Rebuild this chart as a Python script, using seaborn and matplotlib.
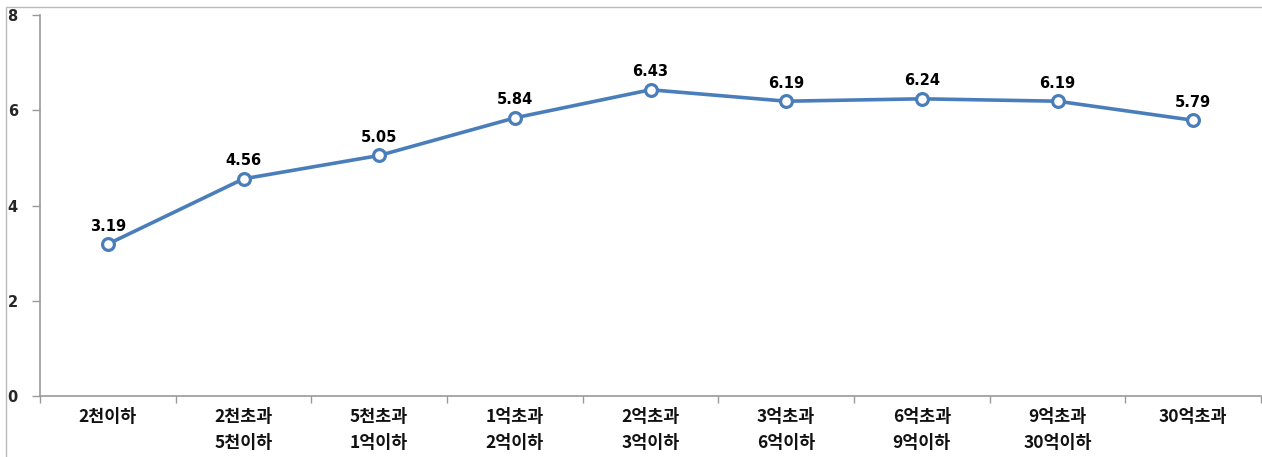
import matplotlib
matplotlib.use("Agg")
import matplotlib.pyplot as plt
import seaborn as sns
import pandas as pd
from matplotlib.patches import Rectangle

categories = ["2천이하", "2천초과\n5천이하", "5천초과\n1억이하", "1억초과\n2억이하",
              "2억초과\n3억이하", "3억초과\n6억이하", "6억초과\n9억이하",
              "9억초과\n30억이하", "30억초과"]
values = [3.19, 4.56, 5.05, 5.84, 6.43, 6.19, 6.24, 6.19, 5.79]
yticks = [0, 2, 4, 6, 8]

sns.set_theme(style="white")
plt.rcParams['font.family'] = ['Noto Sans CJK KR', 'DejaVu Sans']

df = pd.DataFrame({"pos": list(range(len(categories))), "value": values})

fig = plt.figure(figsize=(12.62, 4.57), dpi=100)
ax = fig.add_axes([40 / 1262, 61 / 457, 1221 / 1262, 381 / 457])

color = "#4A7EBB"
sns.lineplot(data=df, x="pos", y="value", ax=ax, color=color, linewidth=2.6,
             marker="o", markersize=8.5, markerfacecolor="white",
             markeredgecolor=color, markeredgewidth=2.3, sort=False)

for x, v in zip(df["pos"], df["value"]):
    ax.annotate(f"{v:.2f}", (x, v), xytext=(0, 13), textcoords="offset points",
                ha="center", va="center", fontsize=10.5, fontweight="bold",
                color="black", family=["DejaVu Sans"])

ax.set_xlim(-0.5, len(categories) - 0.5)
ax.set_ylim(0, 8)
ax.set_yticks(yticks)
ax.set_xticks(range(len(categories)))
ax.set_xticklabels(categories, fontsize=12.5, fontweight="bold", linespacing=1.55,
                   va="top", color="#111111")
ax.set_xticks([i - 0.5 for i in range(len(categories) + 1)], minor=True)
ax.tick_params(axis="x", which="major", length=0, pad=9)
ax.tick_params(axis="x", which="minor", length=5, color="#999999", width=1,
               direction="out", bottom=True)
ax.tick_params(axis="y", which="major", length=6, color="#999999", width=1,
               direction="out", left=True, pad=10, labelsize=10.5,
               labelfontfamily="DejaVu Sans")
ax.set_yticklabels([str(t) for t in yticks])
for lbl in ax.get_yticklabels():
    lbl.set_fontweight("bold")
    lbl.set_fontfamily(["DejaVu Sans"])

ax.set_xlabel("")
ax.set_ylabel("")
for s in ["top", "right"]:
    ax.spines[s].set_visible(False)
for s in ["left", "bottom"]:
    ax.spines[s].set_color("#999999")
    ax.spines[s].set_linewidth(1.2)
ax.grid(False)

# outer frame of the original chart box
fig.patches.append(Rectangle((6 / 1262, -0.1), 1.2, (457 - 7) / 457 + 0.1,
                             transform=fig.transFigure, fill=False,
                             edgecolor="#BBBBBB", linewidth=1))

fig.savefig("out.png", dpi=100)
